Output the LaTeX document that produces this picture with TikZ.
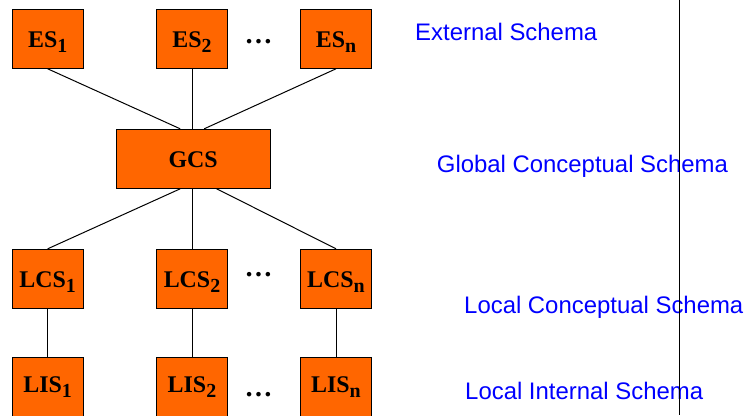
\documentclass[tikz,border=0pt]{standalone}
\usepackage{fontspec}
\setmainfont{Liberation Serif}
\newfontfamily\labfont{Liberation Sans}
\definecolor{boxorange}{RGB}{255,102,0}
\definecolor{labblue}{RGB}{0,0,255}
\newcommand{\subx}[1]{\raisebox{-5bp}{\fontsize{20}{20}\selectfont #1}}
\begin{document}
\begin{tikzpicture}[x=1bp,y=-1bp,
 schemabox/.style={draw=black, line width=1bp, fill=boxorange, minimum width=71bp, minimum height=59bp, inner sep=0pt, font=\fontsize{24}{24}\selectfont\bfseries, text height=18bp, text depth=0bp},
 lisbox/.style={schemabox, text depth=6bp},
 conn/.style={draw=black, line width=1bp},
 dotsnode/.style={inner sep=0pt, font=\fontsize{28}{28}\selectfont\bfseries},
 lab/.style={anchor=base west, inner sep=0pt, text=labblue, font=\labfont\fontsize{24}{24}\selectfont}]
\useasboundingbox (0,0) rectangle (750,415);

\node[schemabox] (es1) at (47.7,38.8) {ES\subx{1}};
\node[schemabox] (es2) at (192,38.8) {ES\subx{2}};
\node[schemabox] (esn) at (336,38.8) {ES\subx{n}};
\node[schemabox, minimum width=154bp] (gcs) at (193.2,158.8) {GCS};
\node[schemabox] (lcs1) at (47.7,278.8) {LCS\subx{1}};
\node[schemabox] (lcs2) at (192,278.8) {LCS\subx{2}};
\node[schemabox] (lcsn) at (336,278.8) {LCS\subx{n}};
\node[lisbox] (lis1) at (47.7,386.8) {LIS\subx{1}};
\node[lisbox] (lis2) at (192,386.8) {LIS\subx{2}};
\node[lisbox] (lisn) at (336,386.8) {LIS\subx{n}};

\node[dotsnode] (d1) at (258.5,42) {…};
\node[dotsnode] (d2) at (258.5,275) {…};
\node[dotsnode] (d3) at (258.5,395) {…};

\draw[conn] (es1.south) -- ([xshift=-13bp]gcs.north);
\draw[conn] (es2.south) -- (es2.south |- gcs.north);
\draw[conn] (esn.south) -- ([xshift=11bp]gcs.north);
\draw[conn] ([xshift=-13bp]gcs.south) -- (lcs1.north);
\draw[conn] (gcs.south -| lcs2.north) -- (lcs2.north);
\draw[conn] ([xshift=23.5bp]gcs.south) -- (lcsn.north);
\draw[conn] (lcs1) -- (lis1);
\draw[conn] (lcs2) -- (lis2);
\draw[conn] (lcsn) -- (lisn);

\node[lab] (l1) at (415,40.7) {External Schema};
\node[lab] (l2) at (436.7,172.5) {Global Conceptual Schema};
\node[lab] (l3) at (464,313.3) {Local Conceptual Schema};
\node[lab] (l4) at (465,399.3) {Local Internal Schema};

\coordinate (vtop) at (679.3,0);
\coordinate (vbot) at (679.3,415);
\draw[conn] (vtop) -- (vbot);
\end{tikzpicture}
\end{document}
